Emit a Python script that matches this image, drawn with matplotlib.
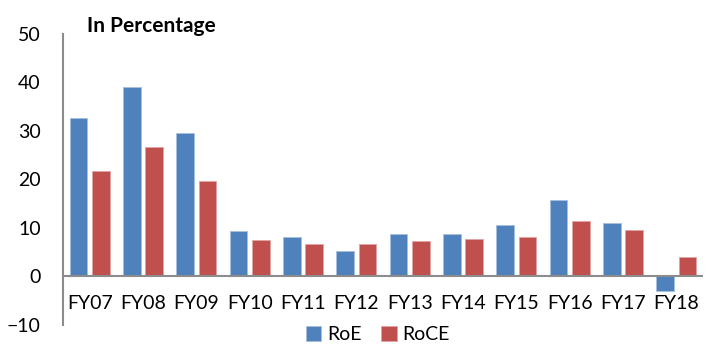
import numpy as np
import matplotlib.pyplot as plt

plt.rcParams['font.family'] = ['Lato', 'DejaVu Sans']

years = ['FY07', 'FY08', 'FY09', 'FY10', 'FY11', 'FY12',
         'FY13', 'FY14', 'FY15', 'FY16', 'FY17', 'FY18']
roe = [32.6, 39.0, 29.5, 9.3, 8.1, 5.3, 8.7, 8.7, 10.5, 15.7, 11.0, -2.9]
roce = [21.7, 26.7, 19.7, 7.4, 6.6, 6.6, 7.2, 7.7, 8.2, 11.4, 9.5, 3.9]

blue = '#4F81BD'
red = '#C0504D'
grey = '#8C8C8C'

fig = plt.figure(figsize=(7.13, 3.47), dpi=100)
ax = fig.add_axes([0.0884, 0.0634, 0.8976, 0.840])

x = np.arange(len(years))
w = 0.33
ax.bar(x - 0.21, roe, w, color=blue, edgecolor='#A7C0DE', linewidth=0.6, label='RoE')
ax.bar(x + 0.21, roce, w, color=red, edgecolor='#E0A3A1', linewidth=0.6, label='RoCE')

ax.set_xlim(-0.5, len(years) - 0.5)
ax.set_ylim(-10, 50)
ax.set_yticks(range(-10, 51, 10))
ax.tick_params(axis='y', length=0, labelsize=14, pad=16)
ax.tick_params(axis='x', length=0, labelsize=14, pad=0)

# category labels sit just below the zero line
ax.set_xticks(x)
ax.set_xticklabels([])
for xi, lab in zip(x, years):
    ax.text(xi, -5.6, lab, ha='center', va='center', fontsize=14)

for side in ['top', 'right', 'bottom']:
    ax.spines[side].set_visible(False)
ax.spines['left'].set_color(grey)
ax.spines['left'].set_linewidth(1.5)
ax.axhline(0, color=grey, linewidth=1.5, zorder=3)

fig.text(0.122, 0.925, 'In Percentage', fontsize=15, fontweight='bold', va='center')

fig.legend(loc='center', bbox_to_anchor=(0.53, 0.035), ncol=2, frameon=False,
           fontsize=14, handlelength=0.8, handleheight=0.8, handletextpad=0.3,
           columnspacing=1.0, borderpad=0)

fig.savefig('out.png', dpi=100)
